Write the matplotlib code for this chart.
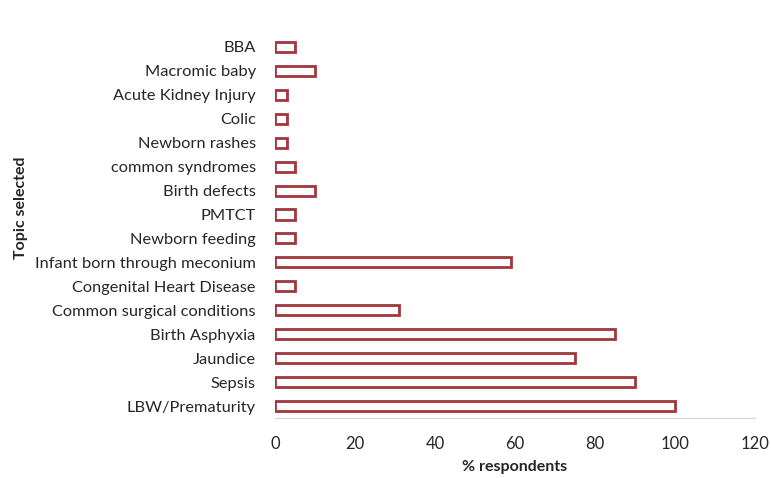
import matplotlib
matplotlib.use("Agg")
import matplotlib.pyplot as plt

topics = ["LBW/Prematurity", "Sepsis", "Jaundice", "Birth Asphyxia",
          "Common surgical conditions", "Congenital Heart Disease",
          "Infant born through meconium", "Newborn feeding", "PMTCT",
          "Birth defects", "common syndromes", "Newborn rashes", "Colic",
          "Acute Kidney Injury", "Macromic baby", "BBA"]
pct = [100, 90, 75, 85, 31, 5, 59, 5, 5, 10, 5, 3, 3, 3, 10, 5]
xticks = [0, 20, 40, 60, 80, 100, 120]

plt.rcParams["font.family"] = ["Lato", "DejaVu Sans"]

fig = plt.figure(figsize=(7.71, 4.78), dpi=100)
ax = fig.add_axes([0.357, 0.1255, 0.622, 0.8015])

ypos = list(range(len(topics)))
ax.barh(ypos, pct, height=0.42, color="white", edgecolor="#A3363B", linewidth=2.0)

ax.set_xlim(0, 120)
ax.set_ylim(-0.5, len(topics) - 0.5)
ax.set_xticks(xticks)
ax.set_xticklabels([str(t) for t in xticks], fontsize=12, color="#262626")
ax.set_yticks(ypos)
ax.set_yticklabels(topics, fontsize=11.8, color="#262626")
ax.tick_params(axis="x", length=0, pad=13)
ax.tick_params(axis="y", length=0, pad=14)

for s in ["top", "right", "left"]:
    ax.spines[s].set_visible(False)
ax.spines["bottom"].set_color("#D9D9D9")
ax.spines["bottom"].set_linewidth(1.0)

ax.set_xlabel("% respondents", fontsize=11.5, fontweight="bold", color="#262626", labelpad=6)
ax.set_ylabel("Topic selected", fontsize=11.5, fontweight="bold", color="#262626")
# label sits a bit above the axis middle in the original
ax.yaxis.set_label_coords(-0.515, 0.55)

fig.savefig("out.png", dpi=100)
